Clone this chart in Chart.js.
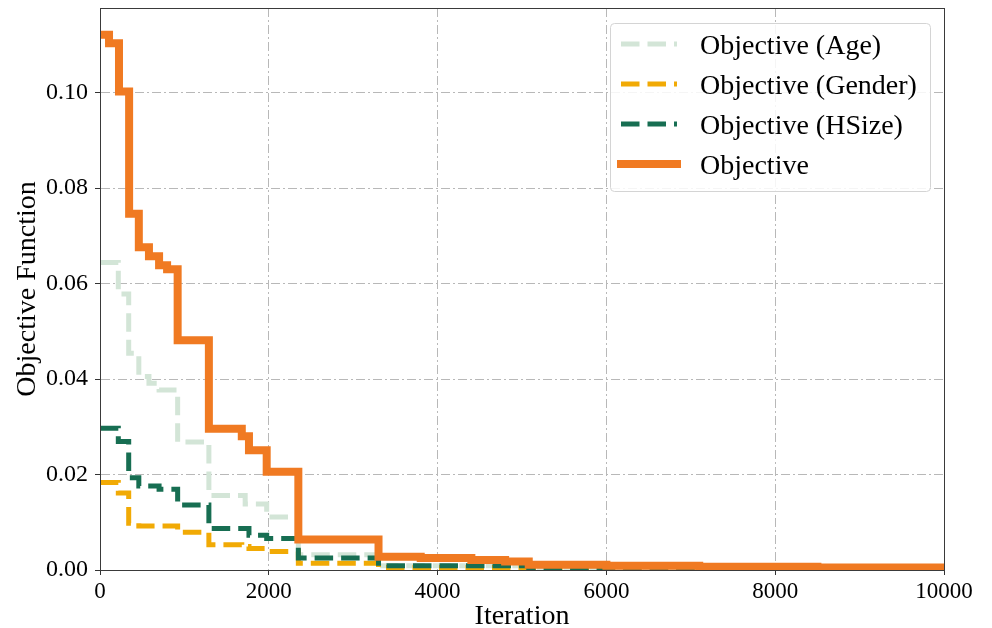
<!DOCTYPE html>
<html><head><meta charset="utf-8">
<script src="https://cdn.jsdelivr.net/npm/chart.js@4.4.1/dist/chart.umd.min.js"></script>
<style>html,body{margin:0;padding:0;background:#fff;}#wrap{width:992px;height:628px;}</style>
</head><body><div id="wrap"><canvas id="c" width="992" height="628"></canvas></div>
<script>
// ---- data ----
const xTicks = [0, 2000, 4000, 6000, 8000, 10000];
const yTicks = [0, 0.02, 0.04, 0.06, 0.08, 0.10];
const seriesLabels = ['Objective (Age)', 'Objective (Gender)', 'Objective (HSize)', 'Objective'];

const iterAge = [0, 217, 340, 460, 580, 700, 920, 1290, 1720, 1975, 2350, 3300, 5080, 10000];
const valAge  = [0.0644, 0.0578, 0.0454, 0.0405, 0.0391, 0.0377, 0.0268, 0.0156, 0.0138, 0.0111, 0.0032, 0.0009, 0.0005, 0.0005];

const iterGender = [0, 217, 340, 460, 920, 1290, 1680, 1765, 1975, 2350, 3300, 5080, 10000];
const valGender  = [0.0183, 0.0161, 0.0098, 0.0092, 0.0079, 0.0053, 0.0049, 0.0045, 0.0039, 0.0014, 0.0005, 0.0003, 0.0003];

const iterHSize = [0, 217, 340, 460, 700, 920, 1290, 1765, 1975, 2350, 3300, 5080, 10000];
const valHSize  = [0.0297, 0.0269, 0.0193, 0.0176, 0.0169, 0.0136, 0.0087, 0.0073, 0.0066, 0.0025, 0.0009, 0.0005, 0.0005];

const iterObjective = [0, 107, 225, 345, 460, 580, 700, 795, 920, 1290, 1680, 1765, 1975, 2350, 3300, 3800, 4400, 4800, 5080, 6000, 7100, 8500, 10000];
const valObjective  = [0.1121, 0.1103, 0.1002, 0.0746, 0.0676, 0.0657, 0.0638, 0.0630, 0.0481, 0.0296, 0.0280, 0.0251, 0.0206, 0.0064, 0.0028, 0.0025, 0.0021, 0.0018, 0.0011, 0.0009, 0.0007, 0.0005, 0.0004];

const pts = (xs, ys) => xs.map((x, i) => ({x: x, y: ys[i]}));

const FONT = "'Liberation Serif', 'Times New Roman', serif";

const framePlugin = {
  id: 'frame',
  afterDatasetsDraw(chart) {
    const {ctx, chartArea: a} = chart;
    ctx.save();
    ctx.strokeStyle = '#3a3a3a';
    ctx.lineWidth = 1;
    ctx.setLineDash([]);
    ctx.strokeRect(Math.round(a.left) + 0.5, Math.round(a.top) + 0.5, Math.round(a.right) - Math.round(a.left), Math.round(a.bottom) - Math.round(a.top));
    ctx.restore();
  }
};

const legendPlugin = {
  id: 'boxLegend',
  afterDraw(chart) {
    const ctx = chart.ctx;
    const ds = chart.data.datasets;
    ctx.save();
    const bx = 610.5, by = 23.5, bw = 320, bh = 168, r = 4;
    ctx.beginPath();
    ctx.roundRect(bx, by, bw, bh, r);
    ctx.fillStyle = 'rgba(255,255,255,0.85)';
    ctx.fill();
    ctx.strokeStyle = '#d4d4d4';
    ctx.lineWidth = 1;
    ctx.stroke();
    ctx.font = '28px ' + FONT;
    ctx.textBaseline = 'alphabetic';
    ctx.textAlign = 'left';
    ds.forEach((d, i) => {
      const y = 44 + 40 * i;
      ctx.beginPath();
      ctx.setLineDash(d.borderDash || []);
      ctx.lineWidth = d.borderWidth;
      ctx.strokeStyle = d.borderColor;
      ctx.lineCap = (d.borderDash && d.borderDash.length) ? 'butt' : 'square';
      ctx.moveTo(621, y);
      ctx.lineTo(677, y);
      ctx.stroke();
      ctx.setLineDash([]);
      ctx.fillStyle = '#000';
      ctx.fillText(d.label, 700, y + 10);
    });
    ctx.restore();
  }
};

const gridDash = [9, 3, 2, 3];

new Chart(document.getElementById('c'), {
  type: 'line',
  data: {
    datasets: [
      {label: seriesLabels[0], data: pts(iterAge, valAge), borderColor: '#d3e5d7', borderWidth: 5, borderDash: [18.5, 8], stepped: true, pointRadius: 0, fill: false, order: 3},
      {label: seriesLabels[1], data: pts(iterGender, valGender), borderColor: '#f1aa05', borderWidth: 5, borderDash: [18.5, 8], stepped: true, pointRadius: 0, fill: false, order: 2},
      {label: seriesLabels[2], data: pts(iterHSize, valHSize), borderColor: '#176e52', borderWidth: 5, borderDash: [18.5, 8], stepped: true, pointRadius: 0, fill: false, order: 1},
      {label: seriesLabels[3], data: pts(iterObjective, valObjective), borderColor: '#f07a22', borderWidth: 8, stepped: true, pointRadius: 0, fill: false, order: 0}
    ]
  },
  options: {
    responsive: false,
    animation: false,
    devicePixelRatio: 1,
    layout: {padding: {top: 8, right: 48, left: 0, bottom: 0}},
    plugins: {legend: {display: false}, tooltip: {enabled: false}},
    scales: {
      x: {
        type: 'linear', min: 0, max: 10000,
        afterBuildTicks: s => { s.ticks = xTicks.map(v => ({value: v})); },
        afterFit: s => { s.height = 58; s.paddingLeft = 0; s.paddingRight = 0; },
        ticks: {color: '#000', font: {family: FONT, size: 23}, padding: 3, maxRotation: 0, callback: v => String(v)},
        grid: {color: '#b8b8b8', lineWidth: 1, drawTicks: true, tickLength: 5, tickColor: '#333', tickBorderDash: []},
        border: {display: true, color: '#3a3a3a', width: 1, dash: gridDash},
        title: {display: true, text: 'Iteration', color: '#000', font: {family: FONT, size: 28, lineHeight: 0.8}, padding: {top: 0, bottom: 0}}
      },
      y: {
        type: 'linear', min: 0, max: 0.1177,
        afterBuildTicks: s => { s.ticks = yTicks.map(v => ({value: v})); },
        afterFit: s => { s.width = 100; s.paddingTop = 0; s.paddingBottom = 0; },
        ticks: {color: '#000', font: {family: FONT, size: 24}, padding: 7, callback: v => Number(v).toFixed(2)},
        grid: {color: '#b8b8b8', lineWidth: 1, drawTicks: true, tickLength: 5, tickColor: '#333', tickBorderDash: []},
        border: {display: true, color: '#3a3a3a', width: 1, dash: gridDash},
        title: {display: true, text: 'Objective Function', color: '#000', font: {family: FONT, size: 28, lineHeight: 1.2}, padding: {top: 11, bottom: 0}}
      }
    }
  },
  plugins: [framePlugin, legendPlugin]
});
</script>
</body></html>
